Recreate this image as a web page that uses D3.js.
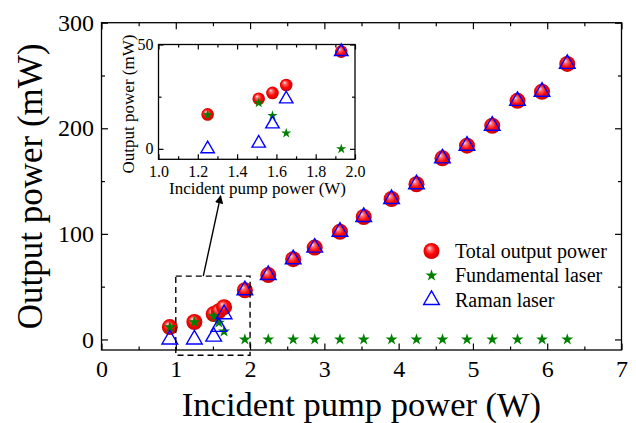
<!DOCTYPE html>
<html>
<head>
<meta charset="utf-8">
<script src="https://cdn.jsdelivr.net/npm/d3@7"></script>
<style>
  html, body { margin: 0; padding: 0; background: #fff; }
  svg { display: block; }
  svg text { font-family: 'Liberation Serif', 'Times New Roman', serif; fill: #000; }
</style>
</head>
<body>
<div id="svg-container"></div>
<script>
// Data
// incident pump power (W)
const pumpPower = [0.92, 1.25, 1.51, 1.58, 1.65, 1.93, 2.245, 2.58, 2.87, 3.21, 3.53, 3.905, 4.24, 4.59, 4.92, 5.26, 5.6, 5.93, 6.27]
// output power (mW)
const totalPower = [11.7, 16.5, 24, 26.8, 30.6, 46.6, 61, 76, 87, 102, 116, 133, 147, 171.5, 183.5, 202.4, 226, 234.6, 261]
const fundamentalPower = [11.5, 16.3, 22, 15.9, 7.5, 0, 0, 0, 0, 0, 0, 0, 0, 0, 0, 0, 0, 0, 0]
const ramanPower = [0, 0, 2.7, 11.9, 23.9, 46.6, 61, 76, 87, 102, 116, 133, 147, 171.5, 183.5, 202.4, 226, 234.6, 261]

const seriesNames = ['Total output power', 'Fundamental laser', 'Raman laser']

const xTicks = [0, 1, 2, 3, 4, 5, 6, 7]
const xMinorTicks = [0.5, 1.5, 2.5, 3.5, 4.5, 5.5, 6.5]
const yTicks = [0, 100, 200, 300]
const yMinorTicks = [50, 150, 250]

const insetXTicks = [1.0, 1.2, 1.4, 1.6, 1.8, 2.0]
const insetXMinorTicks = [1.1, 1.3, 1.5, 1.7, 1.9]
const insetYTicks = [0, 50]
const insetYMinorTicks = [25]

// zoomed region and arrow, in main chart data units
const zoomBoxX = [1, 2]
const zoomBoxY = [-15, 60]
const arrowFrom = [1.37, 60]
const arrowTo = [1.604, 136]

const width = 636
const height = 423
const serif = "'Liberation Serif', 'Times New Roman', serif"

const svg = d3
  .select('#svg-container')
  .append('svg')
  .attr('width', width)
  .attr('height', height)
  .attr('viewBox', `0 0 ${width} ${height}`)
  .attr('font-family', serif)
  .style('background', '#fff')

const defs = svg.append('defs')

const grad = defs
  .append('radialGradient')
  .attr('id', 'sphere')
  .attr('cx', '50%')
  .attr('cy', '50%')
  .attr('r', '55%')
  .attr('fx', '35%')
  .attr('fy', '30%')
grad
  .selectAll('stop')
  .data([
    [0, '#ffe6e6'],
    [0.22, '#ff7070'],
    [0.55, '#ff0808'],
    [1, '#c40000'],
  ])
  .join('stop')
  .attr('offset', d => d[0])
  .attr('stop-color', d => d[1])

defs
  .append('marker')
  .attr('id', 'arrowhead')
  .attr('viewBox', '0 0 10 10')
  .attr('refX', 9)
  .attr('refY', 5)
  .attr('markerWidth', 6)
  .attr('markerHeight', 6)
  .attr('orient', 'auto')
  .append('path')
  .attr('d', 'M0,0 L10,5 L0,10 z')
  .attr('fill', '#000')

const points = pumpPower.map((x, i) => ({
  x,
  total: totalPower[i],
  fundamental: fundamentalPower[i],
  raman: ramanPower[i],
}))

// draws a boxed frame with inward ticks on all four sides
const drawFrame = (g, x, y, o) => {
  const [x0, x1] = x.range()
  const [y0, y1] = y.range()

  const bottom = g.append('g').attr('transform', `translate(0,${y0})`)
  bottom.call(
    d3.axisBottom(x).tickValues(o.xTicks).tickSize(-o.major).tickPadding(o.xPad).tickFormat(o.xFormat),
  )
  bottom.append('g').call(d3.axisBottom(x).tickValues(o.xMinor).tickSize(-o.minor).tickFormat(''))

  const top = g.append('g').attr('transform', `translate(0,${y1})`)
  top.call(d3.axisTop(x).tickValues(o.xTicks).tickSize(-o.major).tickFormat(''))
  top.append('g').call(d3.axisTop(x).tickValues(o.xMinor).tickSize(-o.minor).tickFormat(''))

  const left = g.append('g').attr('transform', `translate(${x0},0)`)
  left.call(d3.axisLeft(y).tickValues(o.yTicks).tickSize(-o.major).tickPadding(o.yPad).tickFormat(d3.format('d')))
  left.append('g').call(d3.axisLeft(y).tickValues(o.yMinor).tickSize(-o.minor).tickFormat(''))

  const right = g.append('g').attr('transform', `translate(${x1},0)`)
  right.call(d3.axisRight(y).tickValues(o.yTicks).tickSize(-o.major).tickFormat(''))
  right.append('g').call(d3.axisRight(y).tickValues(o.yMinor).tickSize(-o.minor).tickFormat(''))

  // d3 axes set a sans-serif family on their groups; put the serif back
  g.selectAll('g').attr('font-family', serif).attr('font-size', o.fontSize)
  g.selectAll('.domain').attr('stroke', 'none')
  g.selectAll('.tick line').attr('stroke', '#000').attr('stroke-width', 1.2)
  g.selectAll('.tick text').filter(function () { return this.textContent === '' }).remove()
  g.selectAll('.tick text').attr('fill', '#000').attr('font-family', serif)

  g.append('rect')
    .attr('x', x0)
    .attr('y', y1)
    .attr('width', x1 - x0)
    .attr('height', y0 - y1)
    .attr('fill', 'none')
    .attr('stroke', '#000')
    .attr('stroke-width', 1.3)
}

const drawSeries = (g, data, x, y, s) => {
  g.append('g')
    .selectAll('circle')
    .data(data)
    .join('circle')
    .attr('cx', d => x(d.x))
    .attr('cy', d => y(d.total))
    .attr('r', s.r)
    .attr('fill', 'url(#sphere)')

  g.append('g')
    .selectAll('path')
    .data(data)
    .join('path')
    .attr('transform', d => `translate(${x(d.x)},${y(d.fundamental)})`)
    .attr('d', d3.symbol(d3.symbolStar, s.star))
    .attr('fill', '#008000')

  g.append('g')
    .selectAll('path')
    .data(data)
    .join('path')
    .attr('transform', d => `translate(${x(d.x)},${y(d.raman)})`)
    .attr('d', d3.symbol(d3.symbolTriangle, s.tri))
    .attr('fill', 'none')
    .attr('stroke', '#0000ff')
    .attr('stroke-width', 1.4)
}

// ---- main chart ----
const xScale = d3.scaleLinear().domain([0, 7]).range([101.5, 621.5])
const yScale = d3.scaleLinear().domain([-10, 300]).range([350, 22.7])

const main = svg.append('g')

drawFrame(main, xScale, yScale, {
  xTicks,
  xMinor: xMinorTicks,
  yTicks,
  yMinor: yMinorTicks,
  major: 6.5,
  minor: 3.5,
  xPad: 10,
  yPad: 7.5,
  fontSize: 24,
  xFormat: d3.format('d'),
})

drawSeries(main, points, xScale, yScale, { r: 8, star: 44, tri: 106 })

main
  .append('text')
  .attr('x', (xScale.range()[0] + xScale.range()[1]) / 2)
  .attr('y', 415.5)
  .attr('text-anchor', 'middle')
  .attr('font-size', 34.5)
  .text('Incident pump power (W)')

main
  .append('text')
  .attr('transform', `translate(42,${(yScale.range()[0] + yScale.range()[1]) / 2}) rotate(-90)`)
  .attr('text-anchor', 'middle')
  .attr('font-size', 35)
  .text('Output power (mW)')

// dashed zoom box
main
  .append('rect')
  .attr('x', xScale(zoomBoxX[0]))
  .attr('y', yScale(zoomBoxY[1]))
  .attr('width', xScale(zoomBoxX[1]) - xScale(zoomBoxX[0]))
  .attr('height', yScale(zoomBoxY[0]) - yScale(zoomBoxY[1]))
  .attr('fill', 'none')
  .attr('stroke', '#000')
  .attr('stroke-width', 1.4)
  .attr('stroke-dasharray', '6,4')

main
  .append('line')
  .attr('x1', xScale(arrowFrom[0]))
  .attr('y1', yScale(arrowFrom[1]))
  .attr('x2', xScale(arrowTo[0]))
  .attr('y2', yScale(arrowTo[1]))
  .attr('stroke', '#000')
  .attr('stroke-width', 1.4)
  .attr('marker-end', 'url(#arrowhead)')

// legend
const legend = main.append('g').attr('transform', 'translate(431.5,251)')
const legendRow = d3.scalePoint().domain(seriesNames).range([0, 49])

const legendItems = legend
  .selectAll('g')
  .data(seriesNames)
  .join('g')
  .attr('transform', d => `translate(0,${legendRow(d)})`)

legendItems
  .filter((d, i) => i === 0)
  .append('circle')
  .attr('r', 8)
  .attr('fill', 'url(#sphere)')
legendItems
  .filter((d, i) => i === 1)
  .append('path')
  .attr('d', d3.symbol(d3.symbolStar, 44))
  .attr('fill', '#008000')
legendItems
  .filter((d, i) => i === 2)
  .append('path')
  .attr('d', d3.symbol(d3.symbolTriangle, 106))
  .attr('fill', 'none')
  .attr('stroke', '#0000ff')
  .attr('stroke-width', 1.4)

legendItems
  .append('text')
  .attr('x', 23.5)
  .attr('dy', '0.33em')
  .attr('font-size', 20)
  .text(d => d)

// ---- inset ----
const insetX = d3.scaleLinear().domain([1, 2]).range([158.5, 355])
const insetY = d3.scaleLinear().domain([-5, 50]).range([159.3, 44.5])

const inset = svg.append('g')

inset
  .append('rect')
  .attr('x', insetX.range()[0])
  .attr('y', insetY.range()[1])
  .attr('width', insetX.range()[1] - insetX.range()[0])
  .attr('height', insetY.range()[0] - insetY.range()[1])
  .attr('fill', '#fff')

drawFrame(inset, insetX, insetY, {
  xTicks: insetXTicks,
  xMinor: insetXMinorTicks,
  yTicks: insetYTicks,
  yMinor: insetYMinorTicks,
  major: 5,
  minor: 3,
  xPad: 6,
  yPad: 5,
  fontSize: 16,
  xFormat: d3.format('.1f'),
})

const insetPoints = points.filter(d => d.x >= 1 && d.x <= 2)
drawSeries(inset, insetPoints, insetX, insetY, { r: 6.3, star: 32, tri: 78 })

inset
  .append('text')
  .attr('x', 257.5)
  .attr('y', 194)
  .attr('text-anchor', 'middle')
  .attr('font-size', 17)
  .text('Incident pump power (W)')

inset
  .append('text')
  .attr('transform', 'translate(134,104) rotate(-90)')
  .attr('text-anchor', 'middle')
  .attr('font-size', 17)
  .text('Output power (mW)')
</script>
</body>
</html>
